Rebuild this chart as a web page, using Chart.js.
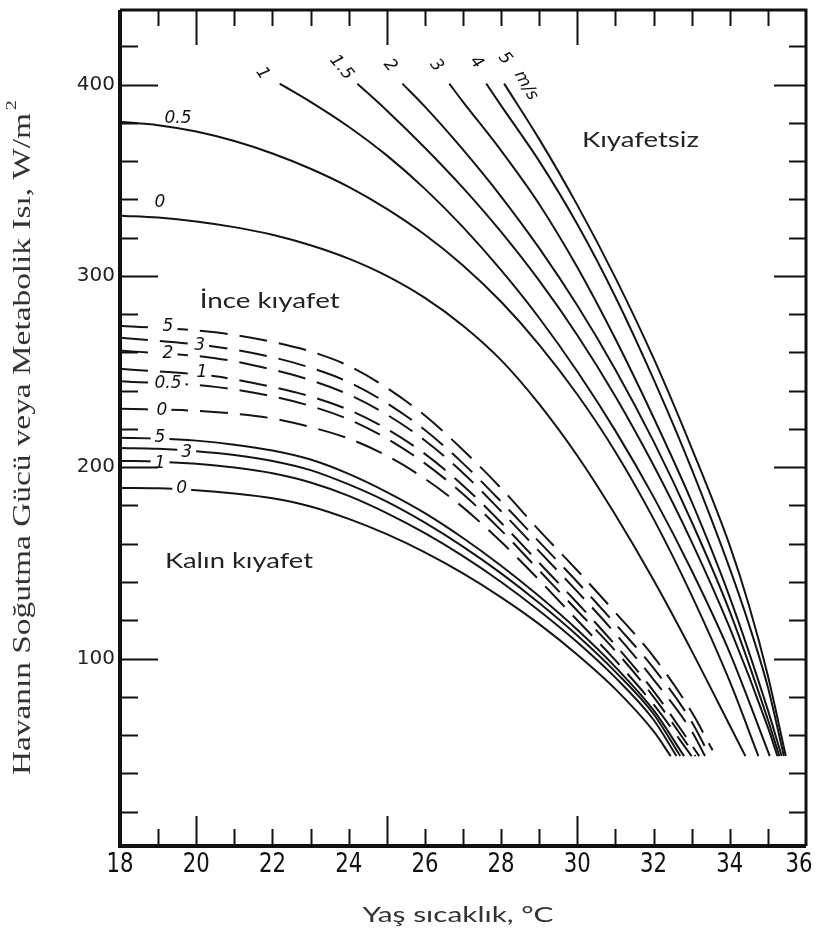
<!DOCTYPE html>
<html>
<head>
<meta charset="utf-8">
<script src="https://cdn.jsdelivr.net/npm/chart.js@4.4.0/dist/chart.umd.min.js"></script>
<style>
  html, body { margin: 0; padding: 0; background: #fff; }
  #wrap { width: 816px; height: 942px; }
</style>
</head>
<body>
<div id="wrap"><canvas id="chart" width="816" height="942"></canvas></div>
<script>
// hava hızları (m/s) - her grup için
const windBare = ['0', '0.5', '1', '1.5', '2', '3', '4', '5'];
const windLight = ['0', '0.5', '1', '2', '3', '5'];
const windHeavy = ['0', '1', '3', '5'];

// Kıyafetsiz: [yaş sıcaklık °C, W/m2]
const bare0 = [[18, 331.5], [19, 330.5], [20, 328.5], [21, 325.5], [22, 321.5], [23, 316], [24, 309], [25, 300], [26, 288.5], [27, 274], [28, 256], [29, 233], [30, 206], [31, 175], [32, 141], [33, 104], [34, 65], [34.41, 49]];
const bare05 = [[18, 380.6], [19, 378.8], [20, 375.5], [21, 370.5], [22, 364], [23, 356], [24, 346.5], [25, 335], [26, 321.5], [27, 305.5], [28, 286.5], [29, 264], [30, 238], [31, 208], [32, 173], [33, 133], [34, 88], [34.75, 49]];
const bare1 = [[22.19, 400.5], [23, 391], [24, 378], [25, 363], [26, 345.5], [27, 325.5], [28, 303], [29, 278], [30, 250], [31, 219], [32, 184.5], [33, 146], [34, 103], [35.05, 49]];
const bare15 = [[24.23, 400.5], [25, 386.5], [26, 367], [27, 346], [28, 323], [29, 297.5], [30, 269], [31, 237], [32, 201], [33, 161], [34, 116], [35, 64], [35.25, 49]];
const bare2 = [[25.41, 400.5], [26, 388.5], [27, 366], [28, 341.5], [29, 314.5], [30, 284.5], [31, 251], [32, 213.5], [33, 171.5], [34, 124.5], [35, 68], [35.3, 49]];
const bare3 = [[26.64, 400.5], [27, 391], [28, 365.5], [29, 337.5], [30, 304.5], [31, 267], [32, 226], [33, 182], [34, 132], [35, 73], [35.36, 49]];
const bare4 = [[27.61, 400.5], [28, 389], [29, 360], [30, 327], [31, 289], [32, 246], [33, 199], [34, 147], [34.5, 118], [35, 85], [35.42, 49]];
const bare5 = [[28.08, 400.5], [29, 371.5], [30, 337], [31, 299], [32, 257], [33, 210], [34, 159], [34.5, 128], [35, 91], [35.47, 49]];

// İnce kıyafet (kesikli)
const light0 = [[18, 230.5], [20, 229.5], [21, 228], [22, 225.5], [23, 221], [24, 215], [25, 206], [26, 194], [27, 179], [28, 161], [29, 141], [30, 120], [31, 99], [32, 76], [33.0, 49]];
const light05 = [[18, 245], [20.5, 242], [22, 237], [23, 232], [24, 225], [25, 215], [26, 202], [27, 186], [28, 167], [29, 146], [30, 125], [31, 104], [32, 80], [33.1, 49]];
const light1 = [[18, 251.5], [20.5, 247.5], [22, 242], [23, 237], [24, 230], [25, 220], [26, 207], [27, 190.5], [28, 171], [29, 150], [30, 129], [31, 107], [32, 83], [33.2, 49]];
const light2 = [[18, 261], [20.5, 257], [22, 251], [23, 245.5], [24, 238], [25, 227.5], [26, 214], [27, 197], [28, 177], [29, 156], [30, 135], [31, 113], [32, 89], [33, 62], [33.35, 49]];
const light3 = [[18, 267.7], [20.5, 263], [22, 257.5], [23, 252], [24, 244.5], [25, 233.5], [26, 219.5], [27, 202], [28, 182], [29, 161], [30, 140], [31, 118], [32, 95], [33, 67], [33.45, 50]];
const light5 = [[18, 274], [20.5, 270.5], [22, 265.5], [23, 260.5], [24, 253], [25, 241.5], [26, 227], [27, 209], [28, 189], [29, 167], [30, 146], [31, 124], [32, 101], [33, 72], [33.55, 52]];

// Kalın kıyafet
const heavy0 = [[18, 189.2], [19, 189], [20, 188], [21, 186.3], [22, 183.8], [23, 179.5], [24, 173], [25, 165], [26, 155.5], [27, 144.5], [28, 132], [29, 118], [30, 102], [31, 84], [32, 62], [32.45, 49]];
const heavy1 = [[18, 203.3], [19, 202.9], [20, 201.8], [21, 199.8], [22, 196.8], [23, 192], [24, 185], [25, 176], [26, 165.5], [27, 153.5], [28, 140], [29, 125], [30, 108.5], [31, 90], [32, 68], [32.6, 49]];
const heavy3 = [[18, 210], [19, 209.6], [20, 208.4], [21, 206.4], [22, 203.3], [23, 198.5], [24, 191], [25, 182], [26, 171], [27, 158.5], [28, 144.5], [29, 129], [30, 112], [31, 93], [32, 71], [32.7, 49]];
const heavy5 = [[18, 215.4], [19, 215], [20, 213.9], [21, 211.8], [22, 208.7], [23, 204], [24, 196.5], [25, 187], [26, 176], [27, 163], [28, 148.5], [29, 132.5], [30, 115], [31, 95.5], [32, 73], [32.8, 49]];

const xTickLabels = [18, 20, 22, 24, 26, 28, 30, 32, 34, 36];
const yTickLabels = [100, 200, 300, 400];

const bareCurves = [bare0, bare05, bare1, bare15, bare2, bare3, bare4, bare5];
const lightCurves = [light0, light05, light1, light2, light3, light5];
const heavyCurves = [heavy0, heavy1, heavy3, heavy5];

function toPoints(arr) {
    return arr.map(p => ({ x: p[0], y: p[1] }));
}

function makeSet(name, arr, dashed) {
    return {
        label: name,
        data: toPoints(arr),
        borderColor: '#141414',
        borderWidth: 2,
        borderDash: dashed ? [28, 12] : [],
        pointRadius: 0,
        fill: false,
        cubicInterpolationMode: 'monotone'
    };
}

const datasets = [];
bareCurves.forEach((c, i) => datasets.push(makeSet('Kıyafetsiz ' + windBare[i], c, false)));
lightCurves.forEach((c, i) => datasets.push(makeSet('İnce kıyafet ' + windLight[i], c, true)));
heavyCurves.forEach((c, i) => datasets.push(makeSet('Kalın kıyafet ' + windHeavy[i], c, false)));

// eğri etiketleri (veri koordinatında)
const curveLabels = [
    { t: '0.5', x: 19.52, y: 382.5, rot: 0 },
    { t: '0', x: 19.05, y: 338.3, rot: 0 },
    { t: '1', x: 21.74, y: 405.8, rot: 55 },
    { t: '1.5', x: 23.81, y: 408.9, rot: 50 },
    { t: '2', x: 25.09, y: 410, rot: 50 },
    { t: '3', x: 26.3, y: 410, rot: 50 },
    { t: '4', x: 27.35, y: 411.5, rot: 50 },
    { t: '5', x: 28.1, y: 413.6, rot: 50 },
    { t: 'm/s', x: 28.65, y: 399.5, rot: 60 },
    { t: '5', x: 19.26, y: 273.4, rot: 0, box: true },
    { t: '3', x: 20.09, y: 263.5, rot: 0, box: true },
    { t: '2', x: 19.26, y: 259.3, rot: 0, box: true },
    { t: '1', x: 20.15, y: 249.4, rot: 0, box: true },
    { t: '0.5', x: 19.26, y: 243.6, rot: 0, box: true },
    { t: '0', x: 19.1, y: 229.5, rot: 0, box: true },
    { t: '5', x: 19.05, y: 215.4, rot: 0, box: true },
    { t: '3', x: 19.75, y: 207.5, rot: 0, box: true },
    { t: '1', x: 19.05, y: 201.8, rot: 0, box: true },
    { t: '0', x: 19.62, y: 188.7, rot: 0, box: true }
];

// grup yazıları: sol kenar, orta çizgi, hedef genişlik
const groupNotes = [
    { t: 'Kıyafetsiz', x: 30.12, y: 370.7, w: 117 },
    { t: 'İnce kıyafet', x: 20.09, y: 287, w: 140 },
    { t: 'Kalın kıyafet', x: 19.18, y: 151, w: 148 }
];

// yatayda gerilmiş yazı (resimdeki yazılar geniş)
function stretchText(ctx, text, x, y, font, width, align) {
    ctx.save();
    ctx.font = font;
    const w = ctx.measureText(text).width;
    const k = width / w;
    ctx.translate(x, y);
    ctx.scale(k, 1);
    ctx.textAlign = 'left';
    const x0 = align === 'center' ? -w / 2 : 0;
    ctx.fillText(text, x0, 0);
    ctx.restore();
}

const labelPlugin = {
    id: 'labels',
    afterDatasetsDraw(chart) {
        const ctx = chart.ctx;
        const xs = chart.scales.x, ys = chart.scales.y;
        ctx.save();
        ctx.font = 'italic 17px "DejaVu Sans"';
        ctx.textAlign = 'center';
        ctx.textBaseline = 'middle';
        curveLabels.forEach(l => {
            const px = xs.getPixelForValue(l.x), py = ys.getPixelForValue(l.y);
            ctx.save();
            ctx.translate(px, py);
            ctx.rotate(l.rot * Math.PI / 180);
            if (l.box) {
                const w = ctx.measureText(l.t).width;
                ctx.fillStyle = '#fff';
                ctx.fillRect(-w / 2 - 4, -8, w + 8, 16);
            }
            ctx.fillStyle = '#111';
            ctx.fillText(l.t, 0, 0);
            ctx.restore();
        });
        ctx.fillStyle = '#222';
        groupNotes.forEach(n => {
            stretchText(ctx, n.t, xs.getPixelForValue(n.x), ys.getPixelForValue(n.y), '21px Lato', n.w, 'left');
        });
        ctx.restore();
    }
};

const framePlugin = {
    id: 'frame',
    afterDraw(chart) {
        const ctx = chart.ctx;
        const a = chart.chartArea;
        const xs = chart.scales.x, ys = chart.scales.y;
        ctx.save();
        ctx.strokeStyle = '#111';
        ctx.lineCap = 'butt';
        // çerçeve
        ctx.lineWidth = 4;
        ctx.beginPath();
        ctx.moveTo(a.left, a.top); ctx.lineTo(a.left, a.bottom); ctx.lineTo(a.right, a.bottom);
        ctx.stroke();
        ctx.lineWidth = 3;
        ctx.beginPath();
        ctx.moveTo(a.left, a.top); ctx.lineTo(a.right, a.top); ctx.lineTo(a.right, a.bottom);
        ctx.stroke();
        // içe doğru çentikler
        ctx.lineWidth = 2;
        ctx.beginPath();
        for (let v = 20; v <= 420; v += 20) {
            const py = Math.round(ys.getPixelForValue(v)) + 0.5;
            const major = v % 100 === 0;
            ctx.moveTo(a.left, py); ctx.lineTo(a.left + (major ? 38 : 18), py);
            ctx.moveTo(a.right, py); ctx.lineTo(a.right - (major ? 32 : 17), py);
        }
        for (let t = 19; t <= 35; t++) {
            const px = Math.round(xs.getPixelForValue(t)) + 0.5;
            const major = t === 20 || t === 25 || t === 30;
            ctx.moveTo(px, a.bottom); ctx.lineTo(px, a.bottom - (major ? 30 : 17));
            ctx.moveTo(px, a.top); ctx.lineTo(px, a.top + (major ? 35 : 16));
        }
        ctx.stroke();

        // x ekseni sayıları (dar, uzun rakamlar)
        ctx.fillStyle = '#111';
        ctx.textBaseline = 'top';
        xTickLabels.forEach(v => {
            const s = String(v);
            let px = xs.getPixelForValue(v);
            px = Math.min(px, chart.width - 17);
            stretchText(ctx, s, px, a.bottom + 5, '27px "DejaVu Sans Condensed", "Liberation Sans Narrow", sans-serif', 27, 'center');
        });

        // eksen başlıkları
        ctx.fillStyle = '#333';
        ctx.textBaseline = 'middle';
        stretchText(ctx, 'Yaş sıcaklık, °C', 458, 915, '21px Lato', 191, 'center');

        const txt = 'Havanın Soğutma Gücü veya Metabolik Isı, W/m';
        ctx.font = '25px "Liberation Serif"';
        const w = ctx.measureText(txt).width;
        const total = w + 12;
        ctx.translate(23, 436);
        ctx.rotate(-Math.PI / 2);
        ctx.scale(678 / total, 1);
        ctx.textAlign = 'left';
        ctx.fillText(txt, -total / 2, 0);
        ctx.font = '15px "Liberation Serif"';
        ctx.fillText('2', -total / 2 + w + 2, -11);
        ctx.restore();
    }
};

new Chart(document.getElementById('chart').getContext('2d'), {
    type: 'line',
    data: { datasets: datasets },
    options: {
        responsive: false,
        devicePixelRatio: 1,
        animation: false,
        layout: { padding: { top: 10, right: 10, left: 0, bottom: 0 } },
        plugins: { legend: { display: false }, tooltip: { enabled: false } },
        scales: {
            x: {
                type: 'linear',
                min: 18,
                max: 36,
                afterFit(scale) {
                    scale.height = 96;
                    scale.paddingLeft = 0;
                    scale.paddingRight = 0;
                },
                grid: { display: false, drawTicks: false },
                border: { display: false },
                ticks: { display: false }
            },
            y: {
                type: 'linear',
                min: 2,
                max: 439,
                afterFit(scale) {
                    scale.width = 120;
                    scale.paddingTop = 0;
                    scale.paddingBottom = 0;
                },
                afterBuildTicks(scale) { scale.ticks = yTickLabels.map(v => ({ value: v })); },
                grid: { display: false, drawTicks: false },
                border: { display: false },
                ticks: {
                    padding: 5,
                    color: '#222',
                    font: { family: '"DejaVu Sans", sans-serif', size: 20 }
                }
            }
        }
    },
    plugins: [labelPlugin, framePlugin]
});
</script>
</body>
</html>
